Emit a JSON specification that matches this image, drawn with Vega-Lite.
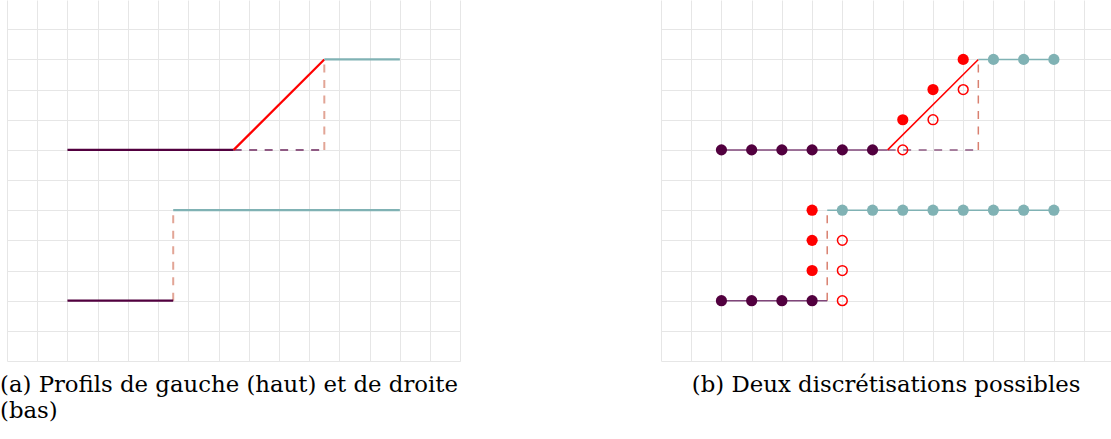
{
  "$schema": "https://vega.github.io/schema/vega-lite/v6.json",
  "background": "white",
  "padding": {"left": 0, "top": 0, "right": 0, "bottom": 0},
  "bounds": "flush",
  "spacing": 200,
  "config": {
    "view": {"stroke": null},
    "axis": {
      "grid": true,
      "gridColor": "#e6e6e6",
      "gridWidth": 1,
      "labels": false,
      "ticks": false,
      "domain": false,
      "title": null
    },
    "title": {
      "font": "DejaVu Serif",
      "fontSize": 22.8,
      "fontWeight": "normal",
      "color": "#000000",
      "orient": "bottom",
      "offset": 13,
      "lineHeight": 25.5
    }
  },
  "datasets": {
    "profils": [
      {"x": 2, "y": 7, "x2": 7.5, "y2": 7, "profil": "gauche"},
      {"x": 7.5, "y": 7, "x2": 10.5, "y2": 10, "profil": "transition"},
      {"x": 10.5, "y": 10, "x2": 13, "y2": 10, "profil": "droite"},
      {"x": 2, "y": 2, "x2": 5.5, "y2": 2, "profil": "gauche"},
      {"x": 5.5, "y": 5, "x2": 13, "y2": 5, "profil": "droite"}
    ],
    "tirets": [
      {"x": 7.5, "y": 7, "x2": 10.5, "y2": 7, "profil": "gauche"},
      {"x": 10.5, "y": 7, "x2": 10.5, "y2": 10, "profil": "saut"},
      {"x": 5.5, "y": 2, "x2": 5.5, "y2": 5, "profil": "saut"}
    ],
    "pleins": [
      {"x": 2, "y": 7, "profil": "gauche"},
      {"x": 3, "y": 7, "profil": "gauche"},
      {"x": 4, "y": 7, "profil": "gauche"},
      {"x": 5, "y": 7, "profil": "gauche"},
      {"x": 6, "y": 7, "profil": "gauche"},
      {"x": 7, "y": 7, "profil": "gauche"},
      {"x": 8, "y": 8, "profil": "transition"},
      {"x": 9, "y": 9, "profil": "transition"},
      {"x": 10, "y": 10, "profil": "transition"},
      {"x": 11, "y": 10, "profil": "droite"},
      {"x": 12, "y": 10, "profil": "droite"},
      {"x": 13, "y": 10, "profil": "droite"},
      {"x": 2, "y": 2, "profil": "gauche"},
      {"x": 3, "y": 2, "profil": "gauche"},
      {"x": 4, "y": 2, "profil": "gauche"},
      {"x": 5, "y": 2, "profil": "gauche"},
      {"x": 5, "y": 3, "profil": "transition"},
      {"x": 5, "y": 4, "profil": "transition"},
      {"x": 5, "y": 5, "profil": "transition"},
      {"x": 6, "y": 5, "profil": "droite"},
      {"x": 7, "y": 5, "profil": "droite"},
      {"x": 8, "y": 5, "profil": "droite"},
      {"x": 9, "y": 5, "profil": "droite"},
      {"x": 10, "y": 5, "profil": "droite"},
      {"x": 11, "y": 5, "profil": "droite"},
      {"x": 12, "y": 5, "profil": "droite"},
      {"x": 13, "y": 5, "profil": "droite"}
    ],
    "vides": [
      {"x": 8, "y": 7},
      {"x": 9, "y": 8},
      {"x": 10, "y": 9},
      {"x": 6, "y": 2},
      {"x": 6, "y": 3},
      {"x": 6, "y": 4}
    ]
  },
  "hconcat": [
    {
      "width": 453.3,
      "height": 361,
      "title": {
        "text": ["(a) Profils de gauche (haut) et de droite", "(bas)"],
        "anchor": "start",
        "dx": -7
      },
      "encoding": {
        "x": {"field": "x", "type": "quantitative",
          "scale": {"domain": [0, 15], "nice": false, "zero": false},
          "axis": {"values": [0, 1, 2, 3, 4, 5, 6, 7, 8, 9, 10, 11, 12, 13, 14, 15]}},
        "y": {"field": "y", "type": "quantitative",
          "scale": {"domain": [0, 11.97], "nice": false, "zero": false},
          "axis": {"values": [0, 1, 2, 3, 4, 5, 6, 7, 8, 9, 10, 11]}}
      },
      "layer": [
        {
          "data": {"name": "tirets"},
          "mark": {"type": "rule", "strokeWidth": 2, "strokeDash": [8, 7.5]},
          "encoding": {
            "x2": {"field": "x2"},
            "y2": {"field": "y2"},
            "color": {"field": "profil", "type": "nominal", "legend": null,
              "scale": {"domain": ["gauche", "saut"], "range": ["#8f5a83", "#e2a596"]}}
          }
        },
        {
          "data": {"name": "profils"},
          "mark": {"type": "rule", "strokeWidth": 2.2},
          "encoding": {
            "x2": {"field": "x2"},
            "y2": {"field": "y2"},
            "color": {"field": "profil", "type": "nominal", "legend": null,
              "scale": {"domain": ["gauche", "transition", "droite"], "range": ["#52003f", "#ff0000", "#80b2b4"]}}
          }
        }
      ],
      "resolve": {"scale": {"color": "independent"}}
    },
    {
      "width": 450.3,
      "height": 361,
      "title": {
        "text": "(b) Deux discrétisations possibles",
        "anchor": "middle"
      },
      "encoding": {
        "x": {"field": "x", "type": "quantitative",
          "scale": {"domain": [0, 14.9], "nice": false, "zero": false},
          "axis": {"values": [0, 1, 2, 3, 4, 5, 6, 7, 8, 9, 10, 11, 12, 13, 14]}},
        "y": {"field": "y", "type": "quantitative",
          "scale": {"domain": [0, 11.97], "nice": false, "zero": false},
          "axis": {"values": [0, 1, 2, 3, 4, 5, 6, 7, 8, 9, 10, 11]}}
      },
      "layer": [
        {
          "data": {"name": "tirets"},
          "mark": {"type": "rule", "strokeWidth": 1.5, "strokeDash": [8, 7.5]},
          "encoding": {
            "x2": {"field": "x2"},
            "y2": {"field": "y2"},
            "color": {"field": "profil", "type": "nominal", "legend": null,
              "scale": {"domain": ["gauche", "saut"], "range": ["#8f5a83", "#d98070"]}}
          }
        },
        {
          "data": {"name": "profils"},
          "mark": {"type": "rule", "strokeWidth": 1.5},
          "encoding": {
            "x2": {"field": "x2"},
            "y2": {"field": "y2"},
            "color": {"field": "profil", "type": "nominal", "legend": null,
              "scale": {"domain": ["gauche", "transition", "droite"], "range": ["#80467a", "#ff0000", "#80b2b4"]}}
          }
        },
        {
          "data": {"name": "vides"},
          "mark": {"type": "point", "shape": "circle", "filled": false, "size": 95, "strokeWidth": 1.5, "color": "#ff0000", "opacity": 1}
        },
        {
          "data": {"name": "pleins"},
          "mark": {"type": "circle", "size": 125, "opacity": 1},
          "encoding": {
            "color": {"field": "profil", "type": "nominal", "legend": null,
              "scale": {"domain": ["gauche", "transition", "droite"], "range": ["#52003f", "#ff0000", "#80b2b4"]}}
          }
        }
      ],
      "resolve": {"scale": {"color": "independent"}}
    }
  ]
}
